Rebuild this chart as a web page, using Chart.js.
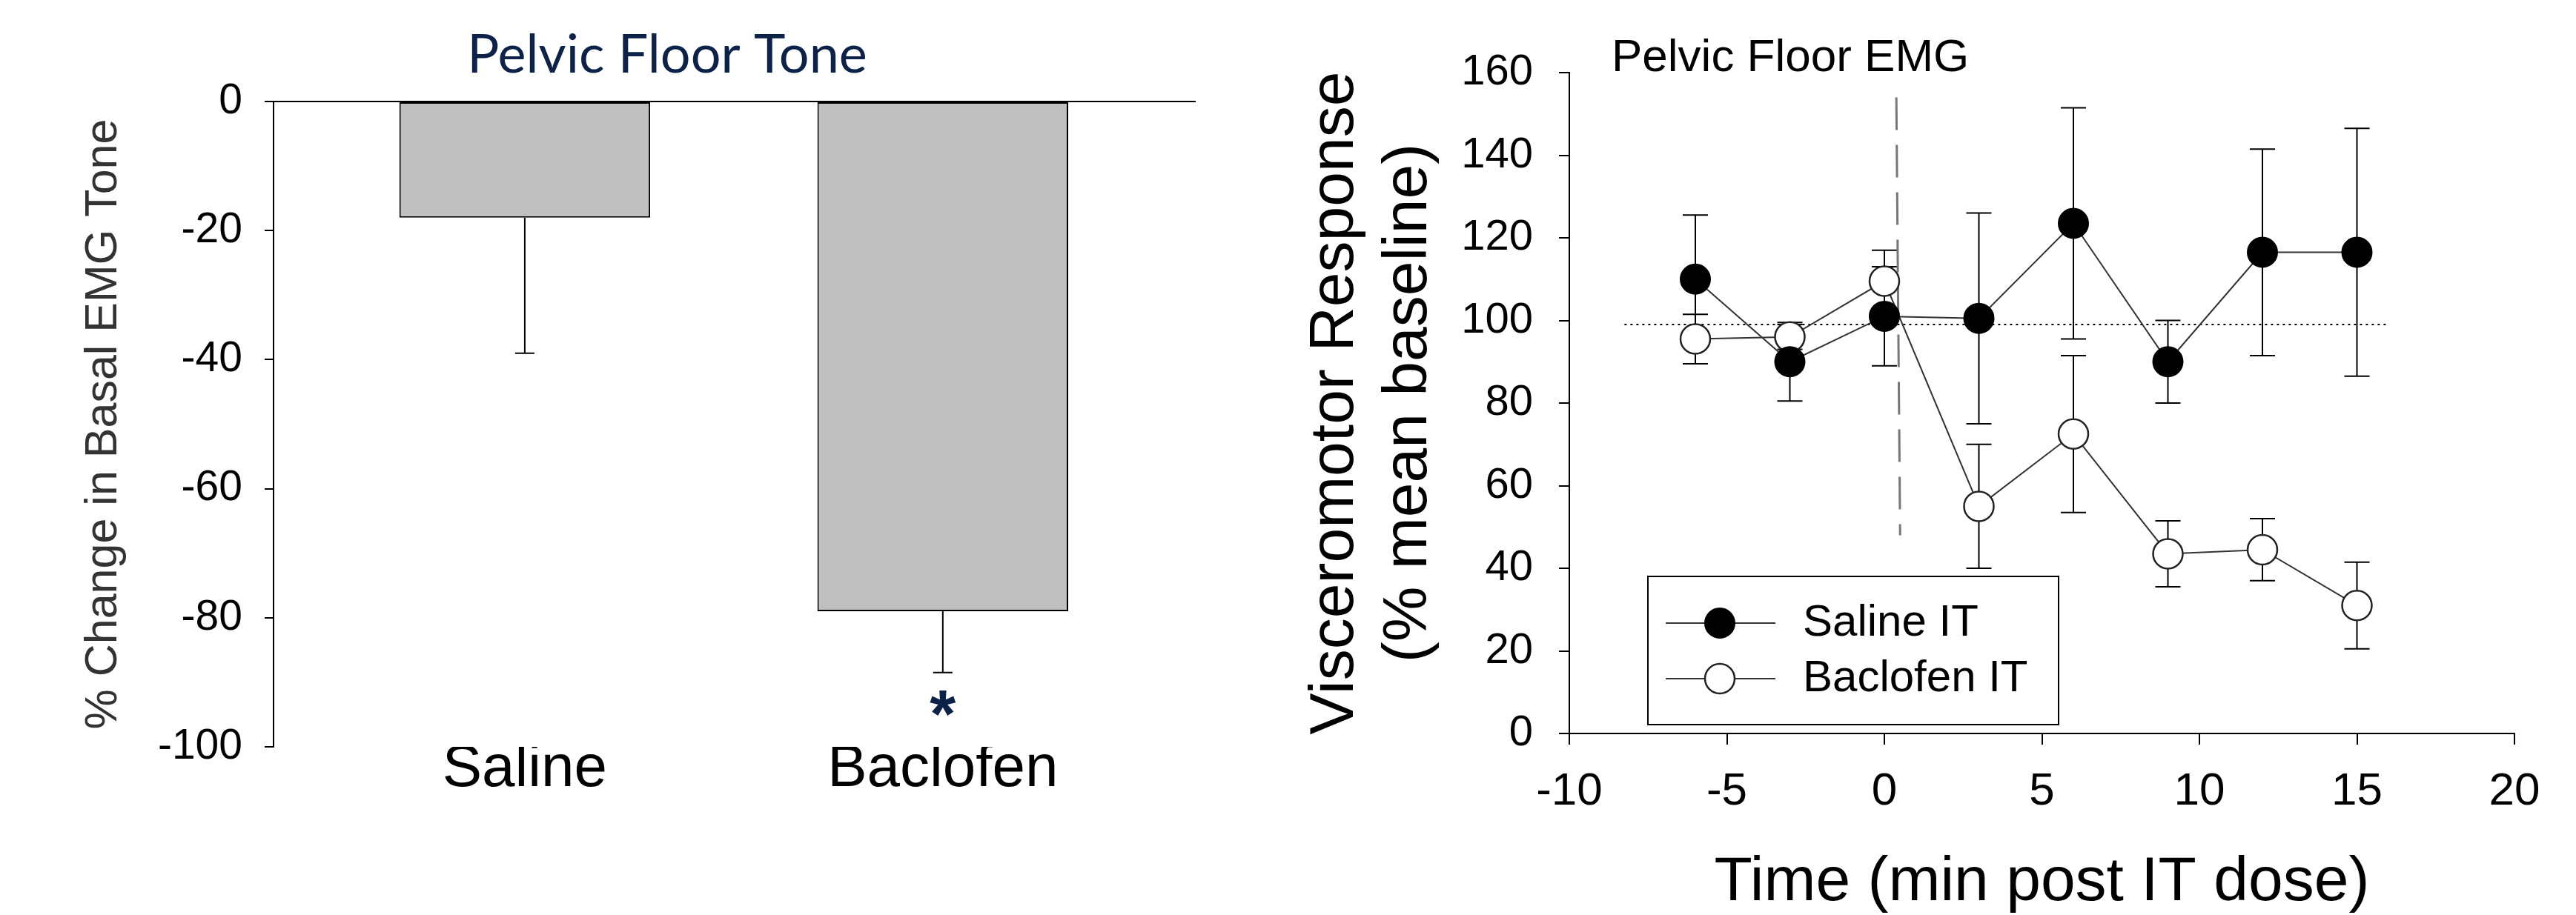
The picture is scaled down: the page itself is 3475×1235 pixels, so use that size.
<!DOCTYPE html>
<html>
<head>
<meta charset="utf-8">
<script src="https://cdn.jsdelivr.net/npm/chart.js@4.4.1/dist/chart.umd.min.js"></script>
<style>
  html, body { margin: 0; padding: 0; background: #fff; }
  #page { position: relative; width: 3475px; height: 1235px; }
  .panel { position: absolute; top: 0; height: 1235px; }
  #left { left: 0; width: 1700px; }
  #right { left: 1700px; width: 1775px; }
</style>
</head>
<body>
<div id="page">
  <div class="panel" id="left"><canvas id="toneChart"></canvas></div>
  <div class="panel" id="right"><canvas id="emgChart"></canvas></div>
</div>
<script>
// left panel: basal tone
const groups = ['Saline', 'Baclofen'];
const toneChange = [-18, -79];
const toneErr = [21, 9.5];
const toneTicks = [0, -20, -40, -60, -80, -100];

// right panel: visceromotor response
const times = [-6, -3, 0, 3, 6, 9, 12, 15];
const salineIT = [110, 90, 101, 100.5, 123.5, 90, 116.5, 116.5];
const salineErr = [15.5, 9.5, 12, 25.5, 28, 10, 25, 30];
const baclofenIT = [95.5, 96, 109.5, 55, 72.5, 43.5, 44.5, 31];
const baclofenErr = [6, 3, 7.5, 15, 19, 8, 7.5, 10.5];
const timeTicks = [-10, -5, 0, 5, 10, 15, 20];
const responseTicks = [0, 20, 40, 60, 80, 100, 120, 140, 160];
const baselineLine = [[-8.25, 99], [16, 99]];
const doseLine = [[0.38, 154], [0.5, 48]];

const FONT = "'Liberation Sans', Arial, sans-serif";
Chart.defaults.font.family = FONT;
Chart.defaults.color = '#000';
Chart.defaults.animation = false;

const toneExtras = {
  id: 'toneExtras',
  afterDatasetsDraw(chart) {
    const { ctx, scales: { x, y } } = chart;
    ctx.save();
    ctx.strokeStyle = '#000';
    ctx.lineWidth = 2;
    toneChange.forEach((v, i) => {
      const px = x.getPixelForValue(i + 1);
      const y0 = y.getPixelForValue(v);
      const y1 = y.getPixelForValue(v - toneErr[i]);
      ctx.beginPath();
      ctx.moveTo(px, y0);
      ctx.lineTo(px, y1);
      ctx.moveTo(px - 13, y1);
      ctx.lineTo(px + 13, y1);
      ctx.stroke();
    });
    ctx.fillStyle = '#0c2248';
    ctx.textAlign = 'center';
    ctx.textBaseline = 'alphabetic';
    ctx.font = 'bold 90px ' + FONT;
    ctx.fillText('*', x.getPixelForValue(2), y.getPixelForValue(-93) + 48);
    ctx.font = "72px Lato, 'Open Sans', sans-serif";
    ctx.fillText('Pelvic Floor Tone', 900, 98);
    ctx.restore();
  }
};

new Chart(document.getElementById('toneChart'), {
  type: 'bar',
  data: {
    datasets: [{
      data: toneChange.map((v, i) => ({ x: i + 1, y: v })),
      backgroundColor: '#c0c0c0',
      borderColor: '#000',
      borderWidth: 2,
      borderSkipped: false,
      barPercentage: 0.6,
      categoryPercentage: 1
    }]
  },
  options: {
    responsive: true,
    maintainAspectRatio: false,
    animation: false,
    layout: { padding: { top: 137, right: 87, left: 0, bottom: 0 } },
    plugins: { legend: { display: false }, tooltip: { enabled: false } },
    scales: {
      x: {
        type: 'linear',
        offset: false,
        min: 0.399,
        max: 2.605,
        grid: { display: false, drawTicks: false },
        border: { display: false },
        afterBuildTicks: s => { s.ticks = groups.map((g, i) => ({ value: i + 1 })); },
        ticks: { callback: v => groups[v - 1], font: { size: 80, lineHeight: 0.6 }, padding: 7, autoSkip: false, maxRotation: 0 },
        afterFit: s => { s.height = 227; }
      },
      y: {
        min: -100,
        max: 0,
        afterBuildTicks: s => { s.ticks = toneTicks.map(v => ({ value: v })); },
        grid: {
          color: c => (c.tick && c.tick.value === 0 ? '#000' : 'rgba(0,0,0,0)'),
          tickColor: '#000',
          lineWidth: 2,
          tickLength: 12
        },
        border: { display: true, color: '#000', width: 2 },
        ticks: { font: { size: 57 }, padding: 30 },
        title: { display: true, text: '% Change in Basal EMG Tone', color: '#333', font: { size: 61, lineHeight: 1.2 }, padding: { top: 104, bottom: 0 } },
        afterFit: s => { s.width = 369; }
      }
    }
  },
  plugins: [toneExtras]
});

const emgExtras = {
  id: 'emgExtras',
  beforeDatasetsDraw(chart) {
    const { ctx, scales: { x, y } } = chart;
    ctx.save();
    ctx.strokeStyle = '#000';
    ctx.lineWidth = 2;
    [[salineIT, salineErr], [baclofenIT, baclofenErr]].forEach(([means, errs]) => {
      means.forEach((m, i) => {
        const px = x.getPixelForValue(times[i]);
        const yt = y.getPixelForValue(m + errs[i]);
        const yb = y.getPixelForValue(m - errs[i]);
        ctx.beginPath();
        ctx.moveTo(px, yt);
        ctx.lineTo(px, yb);
        ctx.moveTo(px - 17, yt);
        ctx.lineTo(px + 17, yt);
        ctx.moveTo(px - 17, yb);
        ctx.lineTo(px + 17, yb);
        ctx.stroke();
      });
    });
    ctx.restore();
  },
  afterDraw(chart) {
    const { ctx } = chart;
    ctx.save();
    ctx.fillStyle = '#000';
    ctx.font = '62px ' + FONT;
    ctx.textAlign = 'left';
    ctx.textBaseline = 'alphabetic';
    ctx.fillText('Pelvic Floor EMG', 474, 96);

    // legend box
    ctx.strokeStyle = '#000';
    ctx.lineWidth = 2;
    ctx.fillStyle = '#fff';
    ctx.fillRect(523, 778, 554, 200);
    ctx.strokeRect(523, 778, 554, 200);
    ctx.font = '60px ' + FONT;
    ctx.textBaseline = 'middle';
    [0, 1].forEach(k => {
      const ds = chart.data.datasets[k];
      const yy = 841 + k * 75;
      ctx.beginPath();
      ctx.moveTo(547, yy);
      ctx.lineTo(695, yy);
      ctx.strokeStyle = ds.borderColor;
      ctx.lineWidth = ds.borderWidth;
      ctx.stroke();
      ctx.beginPath();
      ctx.arc(620, yy, ds.pointRadius, 0, Math.PI * 2);
      ctx.fillStyle = ds.pointBackgroundColor;
      ctx.fill();
      ctx.strokeStyle = ds.pointBorderColor;
      ctx.lineWidth = ds.pointBorderWidth;
      ctx.stroke();
      ctx.fillStyle = '#000';
      ctx.fillText(ds.label, 732, yy);
    });
    ctx.restore();
  }
};

new Chart(document.getElementById('emgChart'), {
  type: 'scatter',
  data: {
    datasets: [
      {
        label: 'Saline IT',
        data: times.map((t, i) => ({ x: t, y: salineIT[i] })),
        showLine: true,
        borderColor: '#333',
        borderWidth: 2,
        pointRadius: 20,
        pointBackgroundColor: '#000',
        pointBorderColor: '#000',
        pointBorderWidth: 2
      },
      {
        label: 'Baclofen IT',
        data: times.map((t, i) => ({ x: t, y: baclofenIT[i] })),
        showLine: true,
        borderColor: '#333',
        borderWidth: 2,
        pointRadius: 20,
        pointBackgroundColor: '#fff',
        pointBorderColor: '#222',
        pointBorderWidth: 2.5
      },
      {
        label: 'baseline',
        data: baselineLine.map(p => ({ x: p[0], y: p[1] })),
        showLine: true,
        borderColor: '#000',
        borderWidth: 2,
        borderDash: [3, 5],
        pointRadius: 0
      },
      {
        label: 'dose',
        data: doseLine.map(p => ({ x: p[0], y: p[1] })),
        showLine: true,
        borderColor: '#777',
        borderWidth: 3,
        borderDash: [44, 20],
        pointRadius: 0
      }
    ]
  },
  options: {
    responsive: true,
    maintainAspectRatio: false,
    animation: false,
    layout: { padding: { top: 98, right: 83, left: 0, bottom: 0 } },
    plugins: { legend: { display: false }, tooltip: { enabled: false } },
    scales: {
      x: {
        type: 'linear',
        min: -10,
        max: 20,
        afterBuildTicks: s => { s.ticks = timeTicks.map(v => ({ value: v })); },
        grid: { display: true, drawOnChartArea: false, drawTicks: true, tickLength: 15, tickColor: '#000', lineWidth: 2 },
        border: { display: true, color: '#000', width: 2 },
        ticks: { font: { size: 62 }, padding: 27, autoSkip: false, maxRotation: 0 },
        title: { display: true, text: 'Time (min post IT dose)', font: { size: 84, lineHeight: 1 }, padding: { top: 0, bottom: 1 } },
        afterFit: s => { s.height = 245; }
      },
      y: {
        min: 0,
        max: 160,
        afterBuildTicks: s => { s.ticks = responseTicks.map(v => ({ value: v })); },
        grid: { display: true, drawOnChartArea: false, drawTicks: true, tickLength: 14, tickColor: '#000', lineWidth: 2 },
        border: { display: true, color: '#000', width: 2 },
        ticks: { font: { size: 58 }, padding: 35 },
        title: {
          display: true,
          text: ['Visceromotor Response', '(% mean baseline)'],
          font: { size: 84, lineHeight: 1.18 },
          padding: { top: 52, bottom: 0 }
        },
        afterFit: s => { s.width = 417; }
      }
    }
  },
  plugins: [emgExtras]
});
</script>
</body>
</html>
